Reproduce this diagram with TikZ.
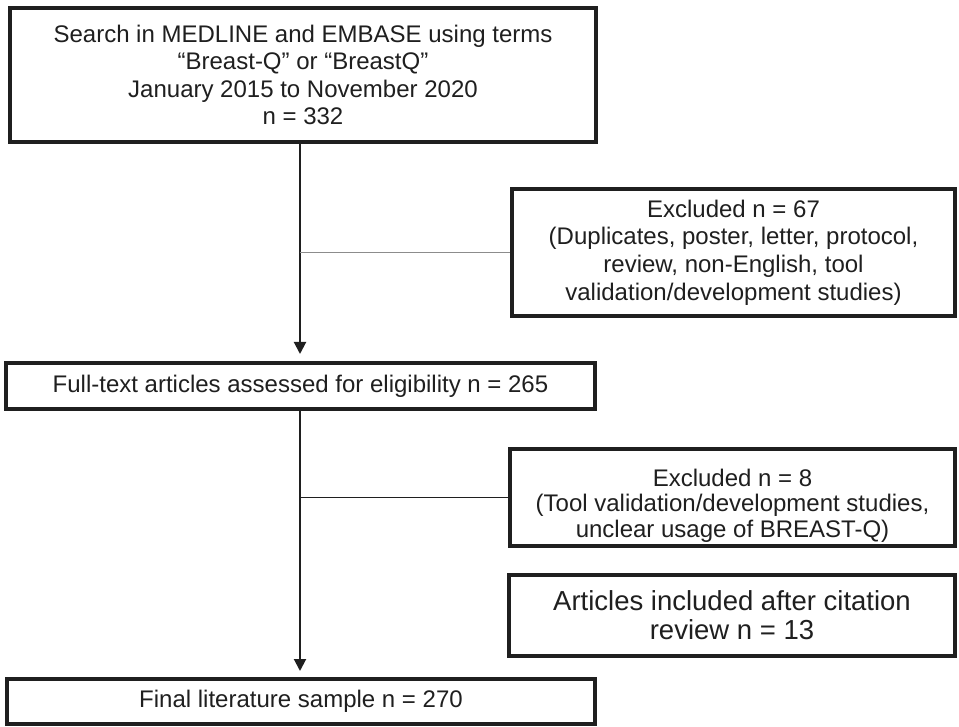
\documentclass[tikz,border=0pt]{standalone}
\usepackage{fontspec}
\setmainfont{Liberation Sans}
\usetikzlibrary{calc,arrows.meta}

\begin{document}
\begin{tikzpicture}[x=1pt,y=-1pt]
\tikzstyle{box}=[draw=black!88, line width=4pt, fill=white, rectangle, align=center, inner sep=0pt, text=black!88, font=\fontsize{24}{27.6}\selectfont]
\tikzstyle{boxtext}=[align=center, inner sep=0pt, text=black!88, font=\fontsize{24}{25.5}\selectfont]
\tikzstyle{flow}=[draw=black!88, line width=2pt, -{Triangle[length=12pt,width=12pt]}]
\tikzstyle{branch}=[draw=black!88, line width=1.2pt]
\useasboundingbox (0,0) rectangle (959,727);

% Search and the main line
\coordinate (spine) at (300,0);
\node[box, minimum width=586pt, minimum height=134pt] (search) at (303,75) {Search in MEDLINE and EMBASE using terms\\
“Breast-Q” or “BreastQ”\\ January 2015 to November 2020\\ n = 332};

% Excluded after search
\node[box, minimum width=443pt, minimum height=127pt] (excl1) at (733.5,252.5) {Excluded n = 67\\
(Duplicates, poster, letter, protocol,\\ review, non-English, tool\\ validation/development studies)};

% Full text
\node[box, minimum width=589pt, minimum height=46pt] (fulltext) at (300.5,386) {Full-text articles assessed for eligibility n = 265};

% Excluded after full text
\node[box, minimum width=445pt, minimum height=97pt] (excl2) at (732.5,497.5) {};
\node[boxtext] (excl2text) at ($(excl2) + (0,8)$) {Excluded n = 8\\
(Tool validation/development studies,\\ unclear usage of BREAST-Q)};

% Citation review
\node[box, minimum width=446pt, minimum height=81pt, font=\fontsize{27.5}{29}\selectfont] (incl) at (732,615.5) {Articles included after citation\\ review n = 13};

% Final sample
\node[box, minimum width=588pt, minimum height=45pt] (final) at (301,701.5) {Final literature sample n = 270};

% arrows
\draw[flow, shorten >=7pt] (search.south -| spine) -- (fulltext.north -| spine);
\draw[flow, shorten >=6pt] (fulltext.south -| spine) -- (final.north -| spine);

% side lines
\draw[branch, draw=black!45, line width=1pt] (excl1.west -| spine) -- (excl1.west);
\draw[branch] (excl2.west -| spine) -- (excl2.west);
\draw[branch] ($(incl.west) + (0,-7.5)$ -| spine) -- ($(incl.west) + (0,-7.5)$);

\end{tikzpicture}
\end{document}
